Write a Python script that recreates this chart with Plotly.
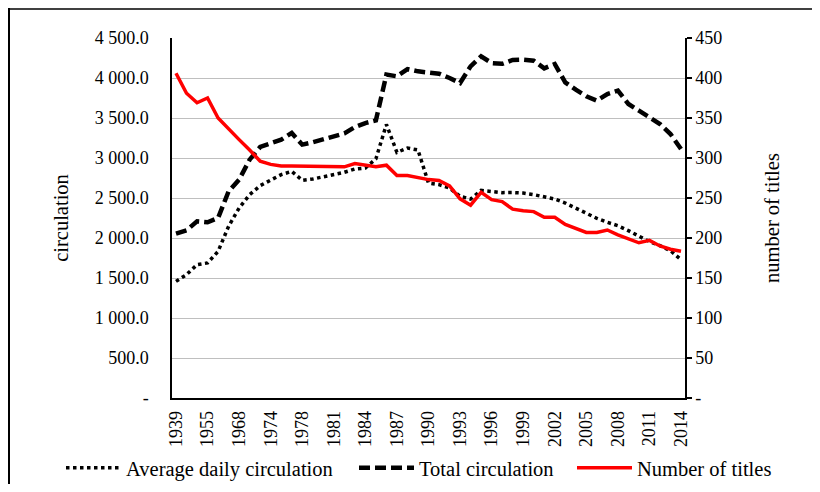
import plotly.graph_objects as go

years = ["1939", "1946", "1950", "1955", "1960", "1965", "1968", "1970", "1972",
         "1974", "1975", "1976", "1978", "1979", "1980"] + [str(y) for y in range(1981, 2015)]

label_years = ["1939", "1955", "1968", "1974", "1978", "1981", "1984", "1987", "1990",
               "1993", "1996", "1999", "2002", "2005", "2008", "2011", "2014"]

avg_daily = [1458, 1542, 1667, 1688, 1833, 2146, 2375, 2542, 2654, 2721, 2792, 2833,
             2721, 2737, 2763, 2792, 2821, 2862, 2875, 2990, 3420, 3070, 3125, 3100,
             2687, 2667, 2625, 2521, 2487, 2596, 2583, 2567, 2568, 2562, 2542, 2517,
             2487, 2437, 2371, 2308, 2246, 2196, 2154, 2092, 2021, 1955, 1904, 1842, 1730]

total_circ = [2054, 2096, 2208, 2196, 2250, 2583, 2729, 2979, 3138, 3179, 3229, 3313,
              3167, 3196, 3238, 3271, 3308, 3387, 3437, 3471, 4042, 4021, 4112, 4083,
              4071, 4054, 4000, 3937, 4146, 4271, 4187, 4177, 4225, 4229, 4217, 4121,
              4175, 3946, 3854, 3771, 3717, 3800, 3842, 3675, 3592, 3508, 3425, 3300, 3112]

num_titles = [406, 381, 369, 375, 350, 336, 323, 310, 296, 292, 290, 290, 290, 290,
              290, 290, 289, 293, 290.5, 289, 291, 278, 278, 275.5, 273, 272, 265, 249,
              241, 257, 248, 245.5, 236, 234, 233, 226, 226, 217, 212, 207, 207, 210,
              204, 199, 194, 197, 190, 186, 183.5]

left_ticks = list(range(0, 4501, 500))
left_text = ["-" if v == 0 else f"{v:,.1f}".replace(",", " ") for v in left_ticks]
right_ticks = list(range(0, 451, 50))
right_text = ["-" if v == 0 else str(v) for v in right_ticks]

FONT = "Liberation Serif, Times New Roman, serif"

# The page puts the figure 8px in from its corner (default body margin),
# so the figure is sized to fit the 820x492 window without overflow.
OFF = 8
W, H = 820 - 2 * OFF, 492 - 2 * OFF
ML, MT, PW, PH = 172 - OFF, 38 - OFF, 513, 360


def px(page_x):
    return (page_x - OFF - ML) / PW


def py(page_y):
    return (MT + PH - (page_y - OFF)) / PH


def cx(page_x):
    return (page_x - OFF) / W


def cy(page_y):
    return 1 - (page_y - OFF) / H


fig = go.Figure()
fig.add_trace(go.Scatter(x=years, y=avg_daily, mode="lines", name="Average daily circulation",
                         legend="legend",
                         line=dict(color="black", width=3.5, dash="3.5px,3.5px")))
fig.add_trace(go.Scatter(x=years, y=total_circ, mode="lines", name="Total circulation",
                         legend="legend2",
                         line=dict(color="black", width=4.5, dash="11px,5px")))
fig.add_trace(go.Scatter(x=years, y=num_titles, mode="lines", name="Number of titles",
                         yaxis="y2", legend="legend3",
                         line=dict(color="#FF0000", width=3.5)))

leg_common = dict(orientation="h", xref="container", yref="container",
                  xanchor="left", y=cy(468), yanchor="middle",
                  font=dict(size=20.5), bgcolor="rgba(0,0,0,0)", itemwidth=55)

fig.update_layout(
    width=W, height=H,
    margin=dict(l=ML, r=W - ML - PW, t=MT, b=H - MT - PH),
    paper_bgcolor="white", plot_bgcolor="white",
    font=dict(family=FONT, size=18, color="black"),
    showlegend=True,
    legend=dict(x=cx(61), **leg_common),
    legend2=dict(x=cx(354), **leg_common),
    legend3=dict(x=cx(572), **leg_common),
    xaxis=dict(type="category", categoryorder="array", categoryarray=years,
               range=[-0.38, 48.38], tickmode="array", tickvals=label_years,
               ticktext=label_years, tickangle=-90, showline=True, linecolor="black",
               linewidth=1.5, showgrid=False, ticks="outside", ticklen=4,
               tickcolor="rgba(0,0,0,0)", tickfont=dict(size=18), automargin=False),
    yaxis=dict(range=[0, 4500], tickmode="array", tickvals=left_ticks, ticktext=left_text,
               showline=True, linecolor="black", linewidth=1.5, showgrid=True,
               gridcolor="#BFBFBF", gridwidth=1, zeroline=False, ticks="outside",
               ticklen=18, tickcolor="rgba(0,0,0,0)", automargin=False,
               title=dict(text="circulation", font=dict(size=20.5), standoff=20)),
    yaxis2=dict(range=[0, 450], overlaying="y", side="right", tickmode="array",
                tickvals=right_ticks, ticktext=right_text, showline=True,
                linecolor="black", linewidth=1.5, showgrid=False, zeroline=False,
                ticks="outside", ticklen=5, tickcolor="black", tickwidth=1.5,
                automargin=False,
                title=dict(text="number of titles", font=dict(size=20.5), standoff=43)),
    shapes=[
        dict(type="line", xref="paper", yref="paper", x0=px(OFF), x1=px(OFF + W),
             y0=py(OFF + 1), y1=py(OFF + 1), line=dict(color="#404040", width=2)),
        dict(type="line", xref="paper", yref="paper", x0=px(OFF + 1), x1=px(OFF + 1),
             y0=py(OFF), y1=py(OFF + H), line=dict(color="black", width=2)),
    ],
)

fig.write_html("out.html")
